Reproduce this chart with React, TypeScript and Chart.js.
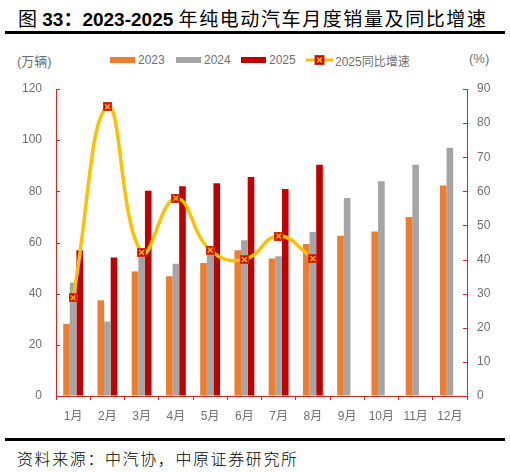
import React, { useEffect, useRef } from "react";
import { Chart, registerables } from "chart.js";

Chart.register(...registerables);

const months = ["1月", "2月", "3月", "4月", "5月", "6月", "7月", "8月", "9月", "10月", "11月", "12月"];
const sales2023 = [28.2, 37.4, 48.7, 46.8, 52.0, 57.0, 53.7, 59.4, 62.6, 64.3, 70.0, 82.3];
const sales2024 = [44.3, 29.1, 55.0, 51.7, 56.3, 60.9, 54.6, 64.1, 77.4, 83.9, 90.4, 97.0];
const sales2025 = [57.0, 54.1, 80.2, 82.0, 83.2, 85.6, 80.9, 90.4, null, null, null, null];
const growth2025 = [28.8, 84.8, 42.1, 58.0, 42.8, 40.0, 46.9, 40.3, null, null, null, null];
const leftTicks = [0, 20, 40, 60, 80, 100, 120];
const rightTicks = [0, 10, 20, 30, 40, 50, 60, 70, 80, 90];

const ORANGE = "#ED7D31";
const GRAY = "#A5A5A5";
const RED = "#C00000";
const YELLOW = "#FFC000";
const AXIS = "#D02828";
const TXT = "#6f6f6f";
const FONT = "'Liberation Sans', 'Noto Sans CJK SC', sans-serif";

function makeMarker(size: number) {
  const c = document.createElement("canvas");
  c.width = size;
  c.height = size;
  const g = c.getContext("2d")!;
  g.fillStyle = "#D83018";
  g.fillRect(0, 0, size, size);
  g.fillStyle = RED;
  g.fillRect(1, 1, size - 2, size - 2);
  g.strokeStyle = YELLOW;
  g.lineWidth = 1.6;
  g.beginPath();
  g.moveTo(2, 2);
  g.lineTo(size - 2, size - 2);
  g.moveTo(size - 2, 2);
  g.lineTo(2, size - 2);
  g.stroke();
  return c;
}

const innerTicks = {
  id: "innerTicks",
  afterDraw(chart: any) {
    const ctx = chart.ctx;
    ctx.save();
    ctx.strokeStyle = AXIS;
    ctx.lineWidth = 1;
    const y = chart.scales.y;
    const y1 = chart.scales.y1;
    leftTicks.forEach((v) => {
      const p = Math.round(y.getPixelForValue(v)) + 0.5;
      ctx.beginPath();
      ctx.moveTo(y.right, p);
      ctx.lineTo(y.right + 4, p);
      ctx.stroke();
    });
    rightTicks.forEach((v) => {
      const p = Math.round(y1.getPixelForValue(v)) + 0.5;
      ctx.beginPath();
      ctx.moveTo(y1.left - 4, p);
      ctx.lineTo(y1.left, p);
      ctx.stroke();
    });
    ctx.restore();
  },
};

function SalesChart() {
  const ref = useRef<HTMLCanvasElement | null>(null);
  useEffect(() => {
    if (!ref.current) return;
    const marker = makeMarker(9);
    const chart = new Chart(ref.current, {
      type: "bar",
      data: {
        labels: months,
        datasets: [
          {
            type: "line",
            label: "2025同比增速",
            data: growth2025,
            yAxisID: "y1",
            borderColor: YELLOW,
            borderWidth: 3.5,
            tension: 0.45,
            pointStyle: marker as any,
            pointRadius: 5,
            order: 0,
          } as any,
          { label: "2023", data: sales2023, backgroundColor: ORANGE, yAxisID: "y", order: 1 },
          { label: "2024", data: sales2024, backgroundColor: GRAY, yAxisID: "y", order: 1 },
          { label: "2025", data: sales2025, backgroundColor: RED, yAxisID: "y", order: 1 },
        ],
      },
      options: {
        responsive: false,
        animation: false,
        layout: { padding: { top: 9, left: 0, right: 0, bottom: 0 } },
        datasets: { bar: { barPercentage: 1, categoryPercentage: 0.58 } },
        plugins: { legend: { display: false }, tooltip: { enabled: false } },
        scales: {
          x: {
            grid: { display: true, drawOnChartArea: false, drawTicks: true, tickLength: 4, color: AXIS, offset: true },
            border: { color: AXIS, width: 1 },
            ticks: { color: TXT, font: { size: 12, family: FONT }, padding: 9, maxRotation: 0, autoSkip: false },
            afterFit: (s: any) => { s.height = 34; },
          },
          y: {
            position: "left",
            min: 0,
            max: 120,
            grid: { display: true, drawOnChartArea: false, drawTicks: false },
            border: { color: AXIS, width: 1 },
            ticks: { stepSize: 20, color: TXT, font: { size: 12, family: FONT }, padding: 14 },
            afterFit: (s: any) => { s.width = 56; s.paddingTop = 7; s.paddingBottom = 7; },
          },
          y1: {
            position: "right",
            min: 0,
            max: 90,
            grid: { display: true, drawOnChartArea: false, drawTicks: false },
            border: { color: AXIS, width: 1 },
            ticks: { stepSize: 10, color: TXT, font: { size: 12, family: FONT }, padding: 10 },
            afterFit: (s: any) => { s.width = 43; s.paddingTop = 7; s.paddingBottom = 7; },
          },
        },
      } as any,
      plugins: [innerTicks],
    });
    return () => chart.destroy();
  }, []);
  return <canvas ref={ref} width={510} height={350} style={{ position: "absolute", left: 0, top: 80 }} />;
}

function LegendBox({ left, color, text }: { left: number; color: string; text: string }) {
  return (
    <div style={{ position: "absolute", left, top: 51, height: 18, display: "flex", alignItems: "center" }}>
      <div style={{ width: 25, height: 6, background: color }} />
      <span style={{ marginLeft: 3, fontSize: 12, color: TXT, fontFamily: FONT }}>{text}</span>
    </div>
  );
}

export default function App() {
  return (
    <div style={{ position: "fixed", left: 0, top: 0, width: 510, height: 472, background: "#fff", overflow: "hidden" }}>
      <div style={{ position: "absolute", left: 18, top: 4, fontSize: 19, color: "#000", whiteSpace: "nowrap", fontFamily: "'Liberation Sans', 'Noto Sans CJK SC', sans-serif" }}>
        <span style={{ fontWeight: 400 }}>图 </span>
        <span style={{ fontWeight: 700 }}>33：2023-2025 </span>
        <span style={{ fontWeight: 400, letterSpacing: 1.6 }}>年纯电动汽车月度销量及同比增速</span>
      </div>
      <div style={{ position: "absolute", left: 5, top: 31, width: 500, height: 3, background: "#000" }} />
      <div style={{ position: "absolute", left: 17, top: 51, fontSize: 13, color: TXT, fontFamily: FONT }}>(万辆)</div>
      <div style={{ position: "absolute", left: 469, top: 51, fontSize: 13, color: TXT, fontFamily: FONT }}>(%)</div>
      <LegendBox left={110} color={ORANGE} text="2023" />
      <LegendBox left={176} color={GRAY} text="2024" />
      <LegendBox left={241} color={RED} text="2025" />
      <div style={{ position: "absolute", left: 306, top: 51, height: 18, display: "flex", alignItems: "center" }}>
        <svg width={27} height={10} viewBox="0 0 27 10">
          <line x1={0} y1={5} x2={27} y2={5} stroke={YELLOW} strokeWidth={3} />
          <rect x={9} y={0.5} width={9} height={9} fill={RED} stroke="#D83018" strokeWidth={1} />
          <path d="M11 2.5 L16 7.5 M16 2.5 L11 7.5" stroke={YELLOW} strokeWidth={1.5} />
        </svg>
        <span style={{ marginLeft: 2, fontSize: 12, color: TXT, fontFamily: FONT }}>2025同比增速</span>
      </div>
      <SalesChart />
      <div style={{ position: "absolute", left: 5, top: 438, width: 500, height: 2.5, background: "#000" }} />
      <div style={{ position: "absolute", left: 17, top: 446, fontSize: 16, color: "#000", letterSpacing: 1.6, fontFamily: "'Noto Sans CJK SC', sans-serif", fontWeight: 300 }}>
        资料来源：中汽协，中原证券研究所
      </div>
    </div>
  );
}
